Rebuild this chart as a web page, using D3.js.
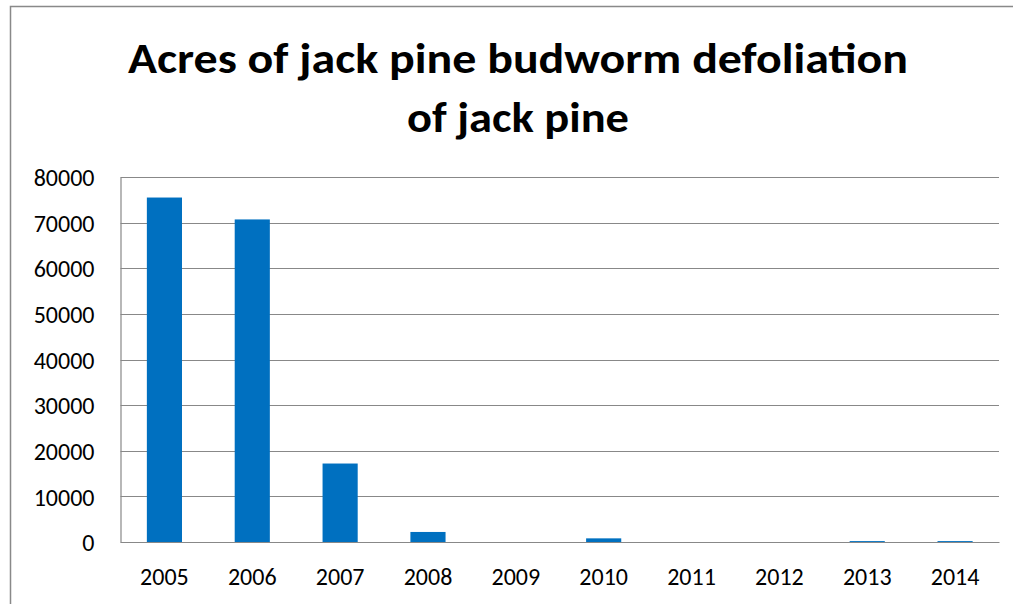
<!DOCTYPE html>
<html>
<head>
<meta charset="utf-8">
<script src="https://cdn.jsdelivr.net/npm/d3@7"></script>
<style>
  html, body { margin: 0; padding: 0; background: #fff; }
  svg { display: block; }
</style>
</head>
<body>
<svg id="chart" width="1013" height="604"></svg>
<script>
const titleLines = ["Acres of jack pine budworm defoliation", "of jack pine"];
const years = ["2005", "2006", "2007", "2008", "2009", "2010", "2011", "2012", "2013", "2014"];
const acres = [75500, 70700, 17200, 2200, 0, 800, 0, 0, 200, 200];
const yTicks = [0, 10000, 20000, 30000, 40000, 50000, 60000, 70000, 80000];

const svg = d3.select("#chart");
const W = 1013, H = 604;
const plot = { left: 120.5, right: 999, top: 177, bottom: 542 };
const font = "Carlito, Calibri, Lato, sans-serif";

// outer chart border
svg.append("rect")
  .attr("x", 10.5).attr("y", 6.5)
  .attr("width", W + 20).attr("height", H + 20)
  .attr("fill", "#fff").attr("stroke", "#898989").attr("stroke-width", 1.5);

// title
svg.append("g").selectAll("text").data(titleLines).join("text")
  .attr("x", 518)
  .attr("y", (d, i) => 73 + i * 59)
  .attr("text-anchor", "middle")
  .attr("font-family", font)
  .attr("font-weight", "bold")
  .attr("font-size", 43)
  .attr("fill", "#000")
  .attr("textLength", (d, i) => i === 0 ? 780 : 222)
  .attr("lengthAdjust", "spacingAndGlyphs")
  .text(d => d);

const x = d3.scaleBand().domain(years)
  .range([plot.left, plot.right])
  .paddingInner(0.6).paddingOuter(0.3);
const y = d3.scaleLinear().domain([0, 80000]).range([plot.bottom, plot.top]);

// gridlines
svg.append("g")
  .selectAll("line").data(yTicks).join("line")
  .attr("x1", plot.left).attr("x2", plot.right)
  .attr("y1", d => Math.round(y(d)) + 0.5).attr("y2", d => Math.round(y(d)) + 0.5)
  .attr("stroke", "#888").attr("stroke-width", 1.2);

// y axis
const yAxis = svg.append("g")
  .attr("transform", `translate(${plot.left},0)`)
  .call(d3.axisLeft(y).tickValues(yTicks).tickSize(0).tickPadding(26).tickFormat(d3.format("d")));
yAxis.select(".domain").attr("stroke", "#888").attr("stroke-width", 1.2);
yAxis.selectAll("text")
  .attr("font-family", font).attr("font-size", 24).attr("fill", "#000")
  .attr("dy", "0.36em");

// bars
svg.append("g")
  .selectAll("rect").data(years.map((yr, i) => ({ yr, v: acres[i] }))).join("rect")
  .attr("x", d => x(d.yr))
  .attr("width", x.bandwidth())
  .attr("y", d => y(d.v))
  .attr("height", d => y(0) - y(d.v))
  .attr("fill", "#0070C0");

// x axis
const xAxis = svg.append("g")
  .attr("transform", `translate(0,${plot.bottom})`)
  .call(d3.axisBottom(x).tickSize(0).tickPadding(26));
xAxis.select(".domain").attr("stroke", "#888").attr("stroke-width", 1.2);
xAxis.selectAll("text")
  .attr("font-family", font).attr("font-size", 24).attr("fill", "#000");
</script>
</body>
</html>
